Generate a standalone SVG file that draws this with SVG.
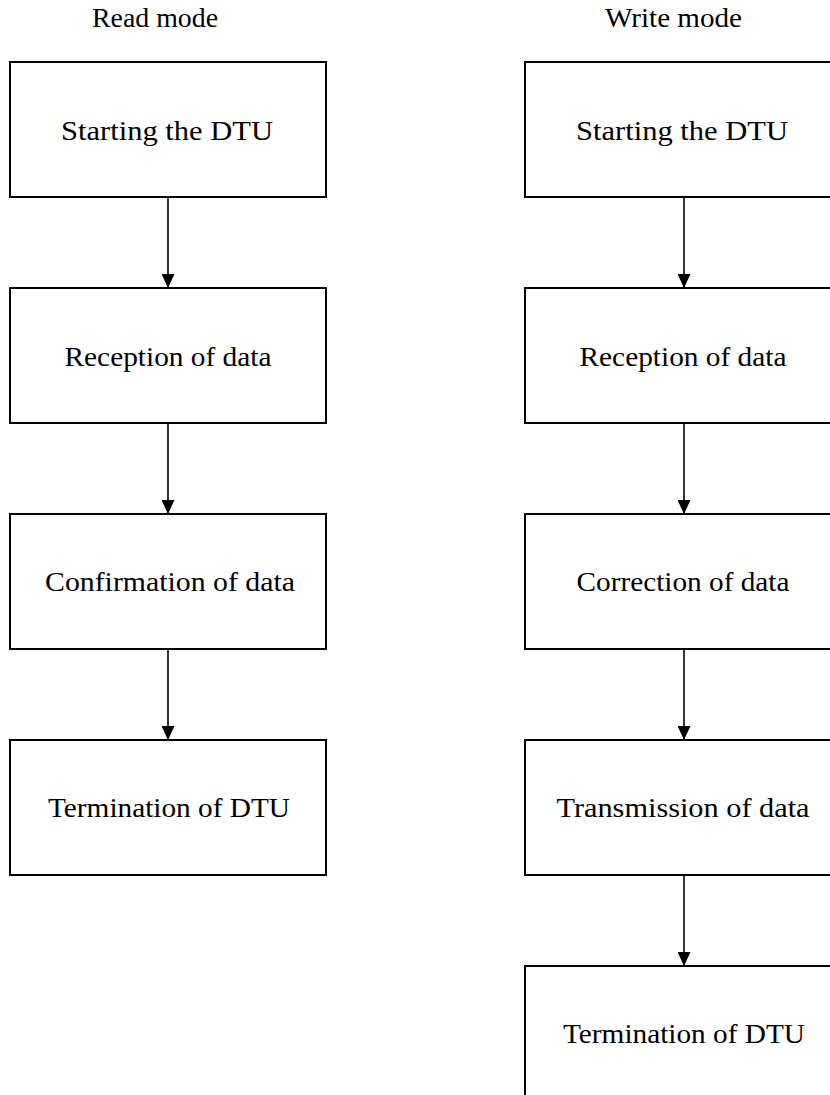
<svg xmlns="http://www.w3.org/2000/svg" width="830" height="1095" viewBox="0 0 830 1095">
<defs>
<style>
.box{fill:#fff;stroke:#000;stroke-width:2}
.t{font-family:"Liberation Serif","Times New Roman",serif;font-size:27px;fill:#000;text-anchor:middle}
.h{font-family:"Liberation Serif","Times New Roman",serif;font-size:27px;fill:#000;text-anchor:middle}
.c{stroke:#000;stroke-width:1.6;fill:none}
</style>
<marker id="arr" viewBox="0 0 14 13" refX="14" refY="6.5" markerWidth="14" markerHeight="13" markerUnits="userSpaceOnUse" orient="auto">
<path d="M0,0 L14,6.5 L0,13 Z" fill="#000"/>
</marker>
</defs>
<rect width="830" height="1095" fill="#fff"/>
<g id="title-read"><text class="h" x="155" y="27" textLength="126" lengthAdjust="spacingAndGlyphs">Read mode</text></g>
<g id="title-write"><text class="h" x="673.5" y="27" textLength="137" lengthAdjust="spacingAndGlyphs">Write mode</text></g>
<g id="connectors">
<line class="c" x1="168" y1="197" x2="168" y2="288" marker-end="url(#arr)"/>
<line class="c" x1="168" y1="423" x2="168" y2="514" marker-end="url(#arr)"/>
<line class="c" x1="168" y1="649" x2="168" y2="740" marker-end="url(#arr)"/>
<line class="c" x1="684" y1="197" x2="684" y2="288" marker-end="url(#arr)"/>
<line class="c" x1="684" y1="423" x2="684" y2="514" marker-end="url(#arr)"/>
<line class="c" x1="684" y1="649" x2="684" y2="740" marker-end="url(#arr)"/>
<line class="c" x1="684" y1="875" x2="684" y2="966" marker-end="url(#arr)"/>
</g>
<g id="r1"><rect class="box" x="10" y="62" width="316" height="135"/><text class="t" x="167" y="140" textLength="212" lengthAdjust="spacingAndGlyphs">Starting the DTU</text></g>
<g id="r2"><rect class="box" x="10" y="288" width="316" height="135"/><text class="t" x="168" y="366" textLength="207" lengthAdjust="spacingAndGlyphs">Reception of data</text></g>
<g id="r3"><rect class="box" x="10" y="514" width="316" height="135"/><text class="t" x="170" y="591" textLength="250" lengthAdjust="spacingAndGlyphs">Confirmation of data</text></g>
<g id="r4"><rect class="box" x="10" y="740" width="316" height="135"/><text class="t" x="169" y="817" textLength="242" lengthAdjust="spacingAndGlyphs">Termination of DTU</text></g>
<g id="w1"><rect class="box" x="525" y="62" width="318" height="135"/><text class="t" x="682" y="140" textLength="212" lengthAdjust="spacingAndGlyphs">Starting the DTU</text></g>
<g id="w2"><rect class="box" x="525" y="288" width="318" height="135"/><text class="t" x="683" y="366" textLength="207" lengthAdjust="spacingAndGlyphs">Reception of data</text></g>
<g id="w3"><rect class="box" x="525" y="514" width="318" height="135"/><text class="t" x="683" y="591" textLength="213" lengthAdjust="spacingAndGlyphs">Correction of data</text></g>
<g id="w4"><rect class="box" x="525" y="740" width="318" height="135"/><text class="t" x="683" y="817" textLength="253" lengthAdjust="spacingAndGlyphs">Transmission of data</text></g>
<g id="w5"><rect class="box" x="525" y="966" width="318" height="140"/><text class="t" x="684" y="1043" textLength="242" lengthAdjust="spacingAndGlyphs">Termination of DTU</text></g>
</svg>
